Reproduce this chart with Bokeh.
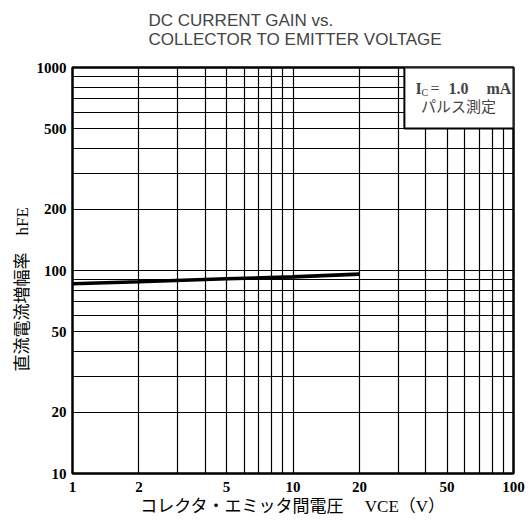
from bokeh.plotting import figure
from bokeh.models import FixedTicker, BoxAnnotation, Label, Range1d, Title
from bokeh.embed import file_html
from bokeh.resources import INLINE

# ---- data ----
vce = [1, 2, 5, 10, 20]
hfe = [86, 88, 91, 93, 96]

x_major = [1, 2, 5, 10, 20, 50, 100]
x_minor = [3, 4, 6, 7, 8, 9, 30, 40, 60, 70, 80, 90]
x_labels = ["1", "2", "5", "10", "20", "50", "100"]
y_major = [10, 20, 50, 100, 200, 500, 1000]
y_minor = [30, 40, 60, 70, 80, 90, 300, 400, 600, 700, 800, 900]
y_labels = ["10", "20", "50", "100", "200", "500", "1000"]

title_text = "DC CURRENT GAIN vs.\nCOLLECTOR TO EMITTER VOLTAGE\n "
x_title = "コレクタ・エミッタ間電圧　 VCE（V）"
y_title = "直流電流増幅率　hFE"
cond_parts = ["I", "C", "=", "1.0", "mA"]
cond_line2 = "パルス測定"

SERIF = "'Liberation Serif', 'Noto Sans CJK JP'"

p = figure(width=530, height=530, x_axis_type="log", y_axis_type="log",
           x_range=Range1d(1, 100), y_range=Range1d(10, 1000),
           output_backend="svg", toolbar_location=None,
           min_border_left=72, min_border_right=17,
           min_border_top=67, min_border_bottom=57,
           title=title_text)

p.title.align = "left"
p.title.offset = 76
p.title.standoff = 0
p.title.text_font = "'Liberation Sans', Arial, sans-serif"
p.title.text_font_size = "17px"
p.title.text_font_style = "normal"
p.title.text_line_height = 1.0

p.background_fill_color = "white"
p.border_fill_color = "white"
p.outline_line_color = "black"
p.outline_line_width = 2.5

p.xaxis.ticker = FixedTicker(ticks=x_major, minor_ticks=x_minor)
p.yaxis.ticker = FixedTicker(ticks=y_major, minor_ticks=y_minor)
p.xaxis.major_label_overrides = {v: s for v, s in zip(x_major, x_labels)}
p.yaxis.major_label_overrides = {v: s for v, s in zip(y_major, y_labels)}

for ax in (p.xaxis, p.yaxis):
    ax.axis_line_color = None
    ax.major_tick_line_color = None
    ax.minor_tick_line_color = None
    ax.major_tick_in = 0
    ax.major_tick_out = 0
    ax.minor_tick_in = 0
    ax.minor_tick_out = 0
    ax.major_label_text_font = "'Liberation Serif'"
    ax.major_label_text_font_style = "bold"
    ax.major_label_text_font_size = "15px"
    ax.major_label_text_color = "black"
    ax.axis_label_text_font = SERIF
    ax.axis_label_text_font_style = "normal"
    ax.axis_label_text_color = "black"

p.xaxis.major_label_standoff = 8
p.yaxis.major_label_standoff = 6
p.xaxis.axis_label = x_title
p.xaxis.axis_label_text_font_size = "17px"
p.xaxis.axis_label_standoff = 2

# y-axis title as a left-side title (sits lower than the frame centre)
ytitle = Title(text=y_title, align="left", offset=102, standoff=4,
               text_font=SERIF, text_font_size="17px", text_font_style="normal",
               text_color="black")
p.add_layout(ytitle, "left")

for g in (p.xgrid, p.ygrid):
    g.grid_line_color = "black"
    g.grid_line_width = 1.2
    g.minor_grid_line_color = "black"
    g.minor_grid_line_width = 1.2

p.line(vce, hfe, line_color="black", line_width=3.6)

# condition box, top right
box = BoxAnnotation(left=32, bottom=500, fill_color="white", fill_alpha=1.0,
                    line_color="black", line_alpha=1.0, line_width=2)
p.add_layout(box)

anchor_x, anchor_y = 35.9, 788
part_offsets = [0, 6, 15, 33, 71]
part_sizes = ["16px", "10px", "16px", "16px", "16px"]
part_dy = [0, -4, 0, 0, 0]
part_style = ["bold", "normal", "normal", "bold", "bold"]
for t, dx, fs, dy, st in zip(cond_parts, part_offsets, part_sizes, part_dy, part_style):
    p.add_layout(Label(x=anchor_x, y=anchor_y, x_offset=dx, y_offset=dy, text=t,
                       text_font="'Liberation Serif'", text_font_style=st,
                       text_font_size=fs, text_baseline="middle", text_align="left"))
p.add_layout(Label(x=56.3, y=640, text=cond_line2, text_font=SERIF,
                   text_font_size="15px", text_baseline="middle", text_align="center"))

open("out.html", "w").write(file_html(p, INLINE))
